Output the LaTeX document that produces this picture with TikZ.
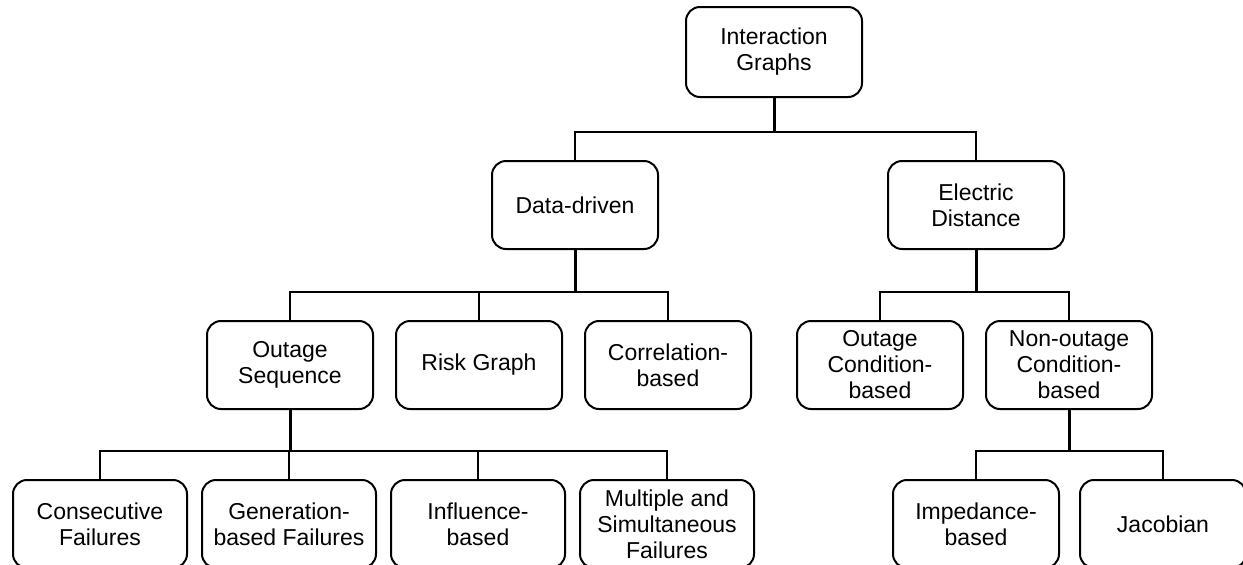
\documentclass[tikz,border=0pt]{standalone}
\usepackage{fontspec}
\setmainfont{Liberation Sans}
\usetikzlibrary{calc}
\tikzstyle{category}=[draw,
                      line width=1pt,
                      rounded corners=7pt,
                      align=center,
                      minimum width=83pt,
                      minimum height=44pt,
                      font=\fontsize{11.5}{13}\selectfont]
\tikzstyle{branch}=[line width=1pt]
\tikzstyle{trunk}=[line width=1.5pt]

\begin{document}
\begin{tikzpicture}[x=0.5pt,y=-0.5pt]
    \useasboundingbox (0,0) rectangle (1243,564);
    \node[category, minimum width=88pt, minimum height=45pt] (ig) at (774,52) {Interaction\\Graphs};
    \node[category] (dd) at (575,205) {Data-driven};
    \node[category, minimum width=88pt] (ed) at (976,205) {Electric\\Distance};
    \node[category] (os) at (290,365) {Outage\\Sequence};
    \node[category, node distance=94.5pt, right of=os] (rg) {Risk Graph};
    \node[category, node distance=94.5pt, right of=rg] (cb) {Correlation-\\based};
    \node[category] (ocb) at (880,365) {Outage\\Condition-\\based};
    \node[category, node distance=94.5pt, right of=ocb] (ncb) {Non-outage\\Condition-\\based};
    \node[category, minimum width=87pt] (cf) at (100,524) {Consecutive\\Failures};
    \node[category, minimum width=87pt, node distance=94.5pt, right of=cf] (gbf) {Generation-\\based Failures};
    \node[category, minimum width=87pt, node distance=94.5pt, right of=gbf] (ib) {Influence-\\based};
    \node[category, minimum width=87pt, node distance=94.5pt, right of=ib] (msf) {Multiple and\\Simultaneous\\Failures};
    \node[category] (imp) at (976,524) {Impedance-\\based};
    \node[category, node distance=93.5pt, right of=imp] (jac) {Jacobian};
    \foreach \p/\c in {ig/dd, ig/ed, dd/os, dd/rg, dd/cb, ed/ocb, ed/ncb,
                       os/cf, os/gbf, os/ib, os/msf, ncb/imp, ncb/jac}
    {
      \draw[branch] (\c.north) -- ++(0,-28) coordinate (bus) -| (\p.south);
      \draw[trunk] (\p.south) -- (\p.south |- bus);
    }
\end{tikzpicture}
\end{document}
